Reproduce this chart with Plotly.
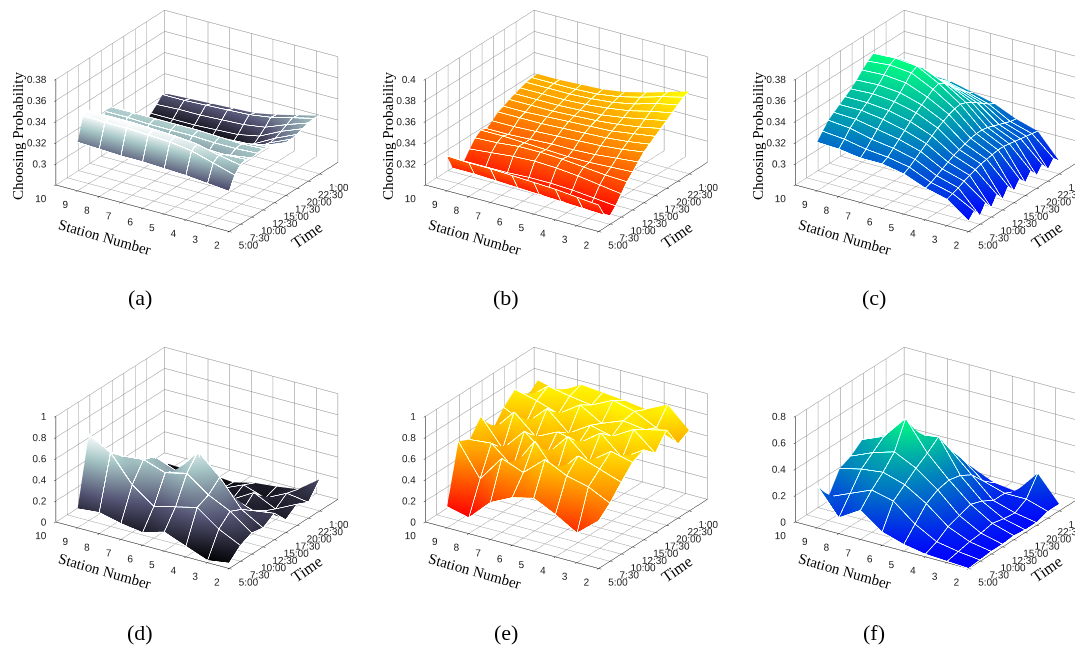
import plotly.graph_objects as go

# station numbers (rows of every surface)
stations = [2, 3, 4, 5, 6, 7, 8, 9]

# time as quarter-hour index counted from 5:00
time_fine = [0, 5, 10, 15, 20, 25, 30, 35, 40, 45, 50, 55, 60, 65, 70, 75, 80]
time_coarse = [0, 10, 20, 30, 40, 50, 60, 70, 80]

time_ticks = [0, 10, 20, 30, 40, 50, 60, 70, 80]
time_labels = ["5:00", "7:30", "10:00", "12:30", "15:00", "17:30", "20:00", "22:30", "1:00"]
station_ticks = [2, 3, 4, 5, 6, 7, 8, 9, 10]

# (a) choosing probability, bone
prob_a = [
    [0.318, 0.330, 0.336, 0.338, 0.336, 0.337, 0.338, 0.336, 0.334, 0.332, 0.330, 0.330, 0.331, 0.333, 0.335, 0.336, 0.335],
    [0.320, 0.336, 0.340, 0.337, 0.333, 0.336, 0.337, 0.334, 0.330, 0.326, 0.322, 0.321, 0.322, 0.325, 0.328, 0.331, 0.330],
    [0.322, 0.342, 0.345, 0.338, 0.331, 0.336, 0.338, 0.333, 0.324, 0.316, 0.311, 0.309, 0.311, 0.315, 0.320, 0.326, 0.325],
    [0.323, 0.345, 0.347, 0.339, 0.331, 0.337, 0.339, 0.333, 0.322, 0.312, 0.306, 0.304, 0.306, 0.311, 0.317, 0.323, 0.321],
    [0.324, 0.346, 0.348, 0.339, 0.330, 0.337, 0.339, 0.332, 0.321, 0.311, 0.305, 0.303, 0.305, 0.310, 0.316, 0.322, 0.320],
    [0.324, 0.347, 0.349, 0.340, 0.331, 0.337, 0.339, 0.332, 0.321, 0.310, 0.304, 0.303, 0.305, 0.309, 0.315, 0.321, 0.319],
    [0.325, 0.347, 0.349, 0.340, 0.331, 0.338, 0.339, 0.332, 0.321, 0.311, 0.305, 0.303, 0.305, 0.309, 0.315, 0.320, 0.318],
    [0.326, 0.348, 0.349, 0.341, 0.332, 0.338, 0.339, 0.331, 0.320, 0.310, 0.305, 0.303, 0.304, 0.309, 0.314, 0.320, 0.317],
]

# (b) choosing probability, autumn
prob_b = [
    [0.325, 0.312, 0.308, 0.314, 0.322, 0.330, 0.336, 0.342, 0.348, 0.352, 0.356, 0.360, 0.364, 0.368, 0.372, 0.376, 0.378],
    [0.327, 0.313, 0.309, 0.316, 0.325, 0.331, 0.335, 0.340, 0.345, 0.349, 0.353, 0.356, 0.360, 0.364, 0.368, 0.371, 0.372],
    [0.329, 0.314, 0.310, 0.318, 0.328, 0.333, 0.334, 0.338, 0.343, 0.347, 0.350, 0.353, 0.356, 0.359, 0.362, 0.365, 0.366],
    [0.330, 0.315, 0.311, 0.319, 0.330, 0.335, 0.334, 0.337, 0.342, 0.346, 0.349, 0.351, 0.353, 0.356, 0.358, 0.360, 0.361],
    [0.331, 0.316, 0.311, 0.319, 0.331, 0.336, 0.335, 0.337, 0.341, 0.345, 0.348, 0.350, 0.352, 0.354, 0.356, 0.357, 0.358],
    [0.332, 0.317, 0.312, 0.318, 0.330, 0.336, 0.336, 0.336, 0.340, 0.344, 0.347, 0.349, 0.351, 0.353, 0.355, 0.356, 0.357],
    [0.332, 0.318, 0.312, 0.318, 0.328, 0.334, 0.337, 0.335, 0.339, 0.344, 0.346, 0.349, 0.351, 0.353, 0.355, 0.356, 0.356],
    [0.333, 0.318, 0.313, 0.318, 0.326, 0.333, 0.337, 0.335, 0.339, 0.344, 0.346, 0.349, 0.351, 0.353, 0.355, 0.356, 0.356],
]

# (c) choosing probability, winter
prob_c = [
    [0.290, 0.296, 0.288, 0.297, 0.289, 0.298, 0.290, 0.299, 0.291, 0.299, 0.292, 0.300, 0.292, 0.299, 0.291, 0.298, 0.292],
    [0.305, 0.307, 0.309, 0.312, 0.314, 0.316, 0.318, 0.319, 0.320, 0.321, 0.321, 0.320, 0.319, 0.318, 0.317, 0.316, 0.315],
    [0.310, 0.312, 0.315, 0.318, 0.321, 0.324, 0.326, 0.328, 0.330, 0.331, 0.331, 0.330, 0.328, 0.326, 0.324, 0.322, 0.321],
    [0.318, 0.321, 0.325, 0.329, 0.333, 0.337, 0.341, 0.344, 0.347, 0.349, 0.350, 0.348, 0.345, 0.341, 0.337, 0.333, 0.330],
    [0.322, 0.325, 0.330, 0.335, 0.340, 0.345, 0.350, 0.354, 0.358, 0.362, 0.364, 0.361, 0.355, 0.349, 0.344, 0.339, 0.335],
    [0.322, 0.327, 0.333, 0.339, 0.345, 0.350, 0.355, 0.360, 0.366, 0.372, 0.375, 0.370, 0.362, 0.355, 0.349, 0.344, 0.340],
    [0.325, 0.331, 0.338, 0.343, 0.348, 0.352, 0.357, 0.362, 0.368, 0.374, 0.377, 0.373, 0.365, 0.357, 0.350, 0.345, 0.341],
    [0.326, 0.333, 0.340, 0.344, 0.348, 0.352, 0.356, 0.361, 0.367, 0.372, 0.376, 0.372, 0.364, 0.357, 0.351, 0.346, 0.342],
]

# (d) choosing probability, bone
prob_d = [
    [0.05, 0.15, 0.20, 0.18, 0.25, 0.12, 0.20, 0.15, 0.30],
    [0.02, 0.25, 0.35, 0.30, 0.22, 0.15, 0.10, 0.18, 0.15],
    [0.10, 0.40, 0.45, 0.55, 0.30, 0.10, 0.20, 0.08, 0.12],
    [0.18, 0.35, 0.60, 0.74, 0.25, 0.12, 0.08, 0.15, 0.10],
    [0.12, 0.30, 0.55, 0.50, 0.15, 0.08, 0.10, 0.06, 0.05],
    [0.15, 0.45, 0.62, 0.58, 0.20, 0.10, 0.06, 0.05, 0.07],
    [0.20, 0.70, 0.60, 0.25, 0.12, 0.06, 0.05, 0.08, 0.05],
    [0.18, 0.82, 0.55, 0.20, 0.10, 0.05, 0.08, 0.04, 0.06],
]

# (e) choosing probability, autumn
prob_e = [
    [0.45, 0.55, 0.68, 0.80, 0.85, 0.75, 0.90, 0.70, 0.76],
    [0.28, 0.65, 0.75, 0.85, 0.72, 0.92, 0.85, 0.80, 0.95],
    [0.40, 0.70, 0.82, 0.70, 0.90, 0.80, 0.88, 0.90, 0.85],
    [0.50, 0.80, 0.60, 0.88, 0.75, 0.85, 0.80, 0.95, 0.88],
    [0.45, 0.62, 0.85, 0.65, 0.80, 0.72, 0.92, 0.85, 0.90],
    [0.35, 0.70, 0.55, 0.82, 0.70, 0.90, 0.78, 0.88, 0.92],
    [0.15, 0.45, 0.72, 0.60, 0.88, 0.70, 0.85, 0.92, 0.80],
    [0.20, 0.75, 0.70, 0.85, 0.65, 0.80, 0.90, 0.75, 0.85],
]

# (f) choosing probability, winter
prob_f = [
    [0.00, 0.01, 0.02, 0.02, 0.03, 0.02, 0.02, 0.05, 0.05],
    [0.01, 0.03, 0.05, 0.06, 0.08, 0.06, 0.05, 0.10, 0.24],
    [0.02, 0.06, 0.12, 0.15, 0.18, 0.15, 0.10, 0.10, 0.06],
    [0.05, 0.15, 0.25, 0.30, 0.32, 0.30, 0.25, 0.15, 0.08],
    [0.10, 0.28, 0.35, 0.42, 0.48, 0.55, 0.40, 0.28, 0.15],
    [0.22, 0.32, 0.40, 0.50, 0.70, 0.52, 0.45, 0.30, 0.18],
    [0.12, 0.25, 0.38, 0.45, 0.52, 0.50, 0.35, 0.25, 0.15],
    [0.32, 0.18, 0.34, 0.38, 0.45, 0.40, 0.32, 0.22, 0.14],
]

bone = [[0, "rgb(0,0,2)"], [0.375, "rgb(84,84,116)"], [0.75, "rgb(167,199,199)"], [1, "rgb(255,255,255)"]]
autumn = [[0, "rgb(255,0,0)"], [1, "rgb(255,255,0)"]]
winter = [[0, "rgb(0,0,255)"], [1, "rgb(0,255,128)"]]

SERIF = "Liberation Serif"
SANS = "Liberation Sans"

panels = [
    ("scene", prob_a, time_fine, bone, [0.28, 0.38], [0.30, 0.32, 0.34, 0.36, 0.38], ["0.3", "0.32", "0.34", "0.36", "0.38"], True),
    ("scene2", prob_b, time_fine, autumn, [0.30, 0.40], [0.32, 0.34, 0.36, 0.38, 0.40], ["0.32", "0.34", "0.36", "0.38", "0.4"], True),
    ("scene3", prob_c, time_fine, winter, [0.28, 0.38], [0.30, 0.32, 0.34, 0.36, 0.38], ["0.3", "0.32", "0.34", "0.36", "0.38"], True),
    ("scene4", prob_d, time_coarse, bone, [0, 1], [0, 0.2, 0.4, 0.6, 0.8, 1], ["0", "0.2", "0.4", "0.6", "0.8", "1"], False),
    ("scene5", prob_e, time_coarse, autumn, [0, 1], [0, 0.2, 0.4, 0.6, 0.8, 1], ["0", "0.2", "0.4", "0.6", "0.8", "1"], False),
    ("scene6", prob_f, time_coarse, winter, [0, 0.8], [0, 0.2, 0.4, 0.6, 0.8], ["0", "0.2", "0.4", "0.6", "0.8"], False),
]

col_x = [[0.0, 0.364], [0.342, 0.706], [0.68, 1.0]]
row_y = [[0.58, 1.0], [0.06, 0.48]]
# camera slide (world units) that puts each box where the reference has it
col_slide = [(-0.0266, -0.0882), (-0.0246, -0.0912), (-0.1348, 0.0784)]
z_slide = -0.155
view = (-1.51, -0.981, 0.8165)

fig = go.Figure()


def axis_style(rng, vals):
    return dict(
        title=dict(text=""), range=rng, tickvals=vals, showticklabels=False,
        showgrid=True, gridcolor="rgb(135,135,135)", gridwidth=1,
        showbackground=False, showline=True, linecolor="black", linewidth=1,
        ticks="outside", tickcolor="black", ticklen=3,
        zeroline=False, showspikes=False, autorange=False,
    )


tick_font = dict(family=SANS, size=10, color="#222")
edge = "rgba(255,255,255,0.22)"

for i, (name, z, tx, cs, zr, zt, zl, has_ztitle) in enumerate(panels):
    fig.add_trace(go.Surface(
        x=tx, y=stations, z=z, scene=name, colorscale=cs, showscale=False,
        lighting=dict(ambient=1.0, diffuse=0.0, specular=0.0, roughness=1.0, fresnel=0.0),
        contours=dict(
            x=dict(show=True, start=tx[0], end=tx[-1], size=tx[1] - tx[0], color=edge, width=1, highlight=False),
            y=dict(show=True, start=2, end=9, size=1, color=edge, width=1, highlight=False),
            z=dict(highlight=False),
        ),
        hoverinfo="skip",
    ))
    # tick labels as flat screen text
    fig.add_trace(go.Scatter3d(
        x=[0] * len(station_ticks), y=station_ticks, z=[zr[0]] * len(station_ticks),
        mode="text", text=[str(s) for s in station_ticks], textposition="bottom left",
        textfont=tick_font, scene=name, hoverinfo="skip", showlegend=False,
    ))
    fig.add_trace(go.Scatter3d(
        x=time_ticks, y=[2] * len(time_ticks), z=[zr[0]] * len(time_ticks),
        mode="text", text=time_labels, textposition="bottom right",
        textfont=tick_font, scene=name, hoverinfo="skip", showlegend=False,
    ))
    fig.add_trace(go.Scatter3d(
        x=[0] * len(zt), y=[10] * len(zt), z=zt,
        mode="text", text=zl, textposition="middle left",
        textfont=tick_font, scene=name, hoverinfo="skip", showlegend=False,
    ))
    r, c = divmod(i, 3)
    sx, sy = col_slide[c]
    fig.layout[name] = dict(
        domain=dict(x=col_x[c], y=row_y[r]),
        xaxis=axis_style([0, 96], time_ticks),
        yaxis=axis_style([2, 10], station_ticks),
        zaxis=axis_style(zr, zt),
        aspectmode="manual", aspectratio=dict(x=1.468, y=1.519, z=0.853),
        camera=dict(eye=dict(x=view[0] + sx, y=view[1] + sy, z=view[2] + z_slide), up=dict(x=0, y=0, z=1),
                    center=dict(x=sx, y=sy, z=z_slide), projection=dict(type="orthographic")),
    )

# axis titles and panel letters (paper coordinates)
col_shift = [0, 370, 740]
row_title_y = [229, 563]
for i, (name, z, tx, cs, zr, zt, zl, has_ztitle) in enumerate(panels):
    r, c = divmod(i, 3)
    dx = col_shift[c]
    yy = row_title_y[r]
    fig.add_annotation(text="Station Number", x=(96 + dx) / 1083, y=1 - yy / 648, textangle=16,
                       xref="paper", yref="paper", showarrow=False, xanchor="center", yanchor="middle",
                       font=dict(family=SERIF, size=15, color="black"))
    fig.add_annotation(text="Time", x=(298 + dx) / 1083, y=1 - (yy - 2) / 648, textangle=-35,
                       xref="paper", yref="paper", showarrow=False, xanchor="center", yanchor="middle",
                       font=dict(family=SERIF, size=16, color="black"))
    if has_ztitle:
        fig.add_annotation(text="Choosing Probability", x=(10 + dx) / 1083, y=1 - 128 / 648, textangle=-90,
                           xref="paper", yref="paper", showarrow=False, xanchor="center", yanchor="middle",
                           font=dict(family=SERIF, size=15, color="black"))

labels = ["(a)", "(b)", "(c)", "(d)", "(e)", "(f)"]
lab_x = [132, 498, 866]
lab_y = [289, 624]
for i, t in enumerate(labels):
    r, c = divmod(i, 3)
    fig.add_annotation(text=t, x=lab_x[c] / 1083, y=1 - lab_y[r] / 648, xref="paper", yref="paper",
                       showarrow=False, xanchor="center", yanchor="middle",
                       font=dict(family=SERIF, size=22, color="black"))

fig.update_layout(width=1083, height=648, margin=dict(l=0, r=0, t=0, b=0),
                  paper_bgcolor="white", showlegend=False)

fig.write_html("out.html")
